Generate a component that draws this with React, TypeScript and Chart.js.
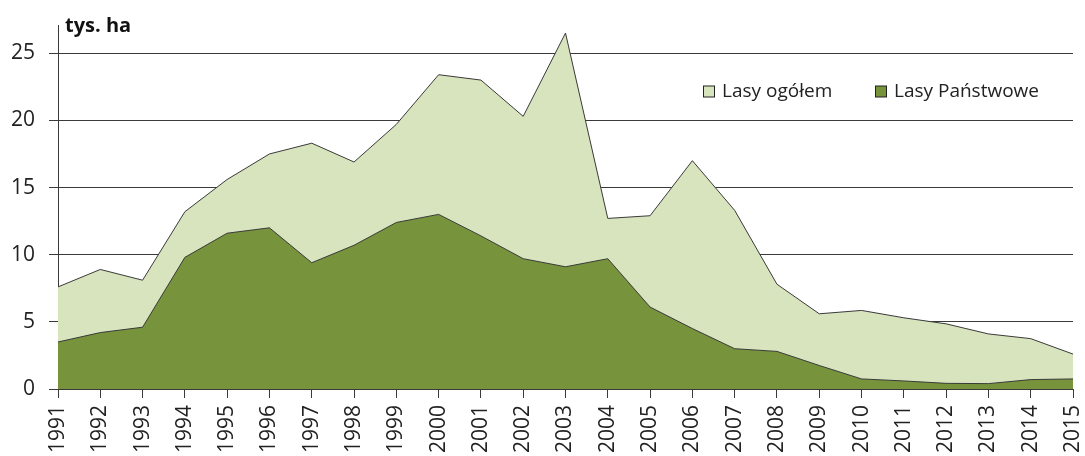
import { useEffect, useRef } from "react";
import { Chart, registerables } from "chart.js";

Chart.register(...registerables);

const years = [
  "1991", "1992", "1993", "1994", "1995", "1996", "1997", "1998", "1999", "2000",
  "2001", "2002", "2003", "2004", "2005", "2006", "2007", "2008", "2009", "2010",
  "2011", "2012", "2013", "2014", "2015",
];
const lasyOgolem = [
  7.6, 8.9, 8.1, 13.2, 15.6, 17.5, 18.3, 16.9, 19.7, 23.4,
  23.0, 20.3, 26.5, 12.7, 12.9, 17.0, 13.3, 7.8, 5.6, 5.85,
  5.3, 4.85, 4.1, 3.75, 2.6,
];
const lasyPanstwowe = [
  3.5, 4.2, 4.6, 9.8, 11.6, 12.0, 9.4, 10.7, 12.4, 13.0,
  11.4, 9.7, 9.1, 9.7, 6.1, 4.5, 3.0, 2.8, 1.75, 0.75,
  0.6, 0.42, 0.4, 0.7, 0.75,
];
const yTicks = [0, 5, 10, 15, 20, 25];
const yMax = 27.1;
const unitLabel = "tys. ha";
const seriesNames = ["Lasy ogółem", "Lasy Państwowe"];
const lightFill = "#d7e4bd";
const darkFill = "#77933c";
const lineColor = "#3a3a3a";
const FONT = "'Open Sans', sans-serif";

const overlayPlugin = {
  id: "overlay",
  afterDraw(chart: any) {
    const ctx = chart.ctx;
    const area = chart.chartArea;
    ctx.save();
    ctx.fillStyle = "#111";
    ctx.font = `bold 20px ${FONT}`;
    ctx.textAlign = "left";
    ctx.textBaseline = "alphabetic";
    ctx.fillText(unitLabel, area.left + 7, area.top + 7);
    const items = [
      { label: seriesNames[0], color: lightFill, x: area.left + 645 },
      { label: seriesNames[1], color: darkFill, x: area.left + 817 },
    ];
    const cy = 91.5;
    ctx.font = `19px ${FONT}`;
    ctx.textBaseline = "middle";
    for (const it of items) {
      ctx.fillStyle = it.color;
      ctx.fillRect(it.x + 0.5, cy - 5.5, 11, 11);
      ctx.strokeStyle = "#222";
      ctx.lineWidth = 1;
      ctx.strokeRect(it.x + 0.5, cy - 5.5, 11, 11);
      ctx.fillStyle = "#222";
      ctx.fillText(it.label, it.x + 19, cy);
    }
    ctx.restore();
  },
};

export default function App() {
  const ref = useRef<HTMLCanvasElement | null>(null);

  useEffect(() => {
    if (!ref.current) return;
    const chart = new Chart(ref.current, {
      type: "line",
      data: {
        labels: years,
        datasets: [
          {
            label: seriesNames[1],
            data: lasyPanstwowe,
            backgroundColor: darkFill,
            borderColor: lineColor,
            borderWidth: 1,
            fill: "origin",
            pointRadius: 0,
            tension: 0,
          },
          {
            label: seriesNames[0],
            data: lasyOgolem,
            backgroundColor: lightFill,
            borderColor: lineColor,
            borderWidth: 1,
            fill: "origin",
            pointRadius: 0,
            tension: 0,
          },
        ],
      },
      options: {
        animation: false,
        responsive: false,
        devicePixelRatio: 1,
        layout: { padding: { top: 25, right: 12, left: 0, bottom: 0 } },
        plugins: {
          legend: { display: false },
          tooltip: { enabled: false },
        },
        scales: {
          x: {
            offset: false,
            grid: {
              display: true,
              drawOnChartArea: false,
              drawTicks: true,
              tickLength: 9,
              color: lineColor,
            },
            border: { display: true, color: lineColor, width: 1 },
            ticks: {
              minRotation: 90,
              maxRotation: 90,
              autoSkip: false,
              padding: 7,
              color: "#222",
              font: { family: FONT, size: 21 },
            },
            afterFit(scale: any) {
              scale.height = 67;
              scale.paddingLeft = 0;
              scale.paddingRight = 0;
            },
          },
          y: {
            min: 0,
            max: yMax,
            afterBuildTicks(scale: any) {
              scale.ticks = yTicks.map((v) => ({ value: v }));
            },
            grid: {
              display: true,
              drawOnChartArea: true,
              drawTicks: true,
              tickLength: 9,
              color: lineColor,
            },
            border: { display: true, color: lineColor, width: 1 },
            ticks: {
              padding: 14,
              color: "#222",
              font: { family: FONT, size: 21 },
            },
            afterFit(scale: any) {
              scale.width = 58;
              scale.paddingTop = 0;
              scale.paddingBottom = 0;
            },
          },
        },
      },
      plugins: [overlayPlugin],
    });
    return () => chart.destroy();
  }, []);

  return (
    <div style={{ position: "fixed", left: 0, top: 0, width: 1085, height: 456, background: "#fff" }}>
      <canvas ref={ref} width={1085} height={456} style={{ width: 1085, height: 456 }} />
    </div>
  );
}
